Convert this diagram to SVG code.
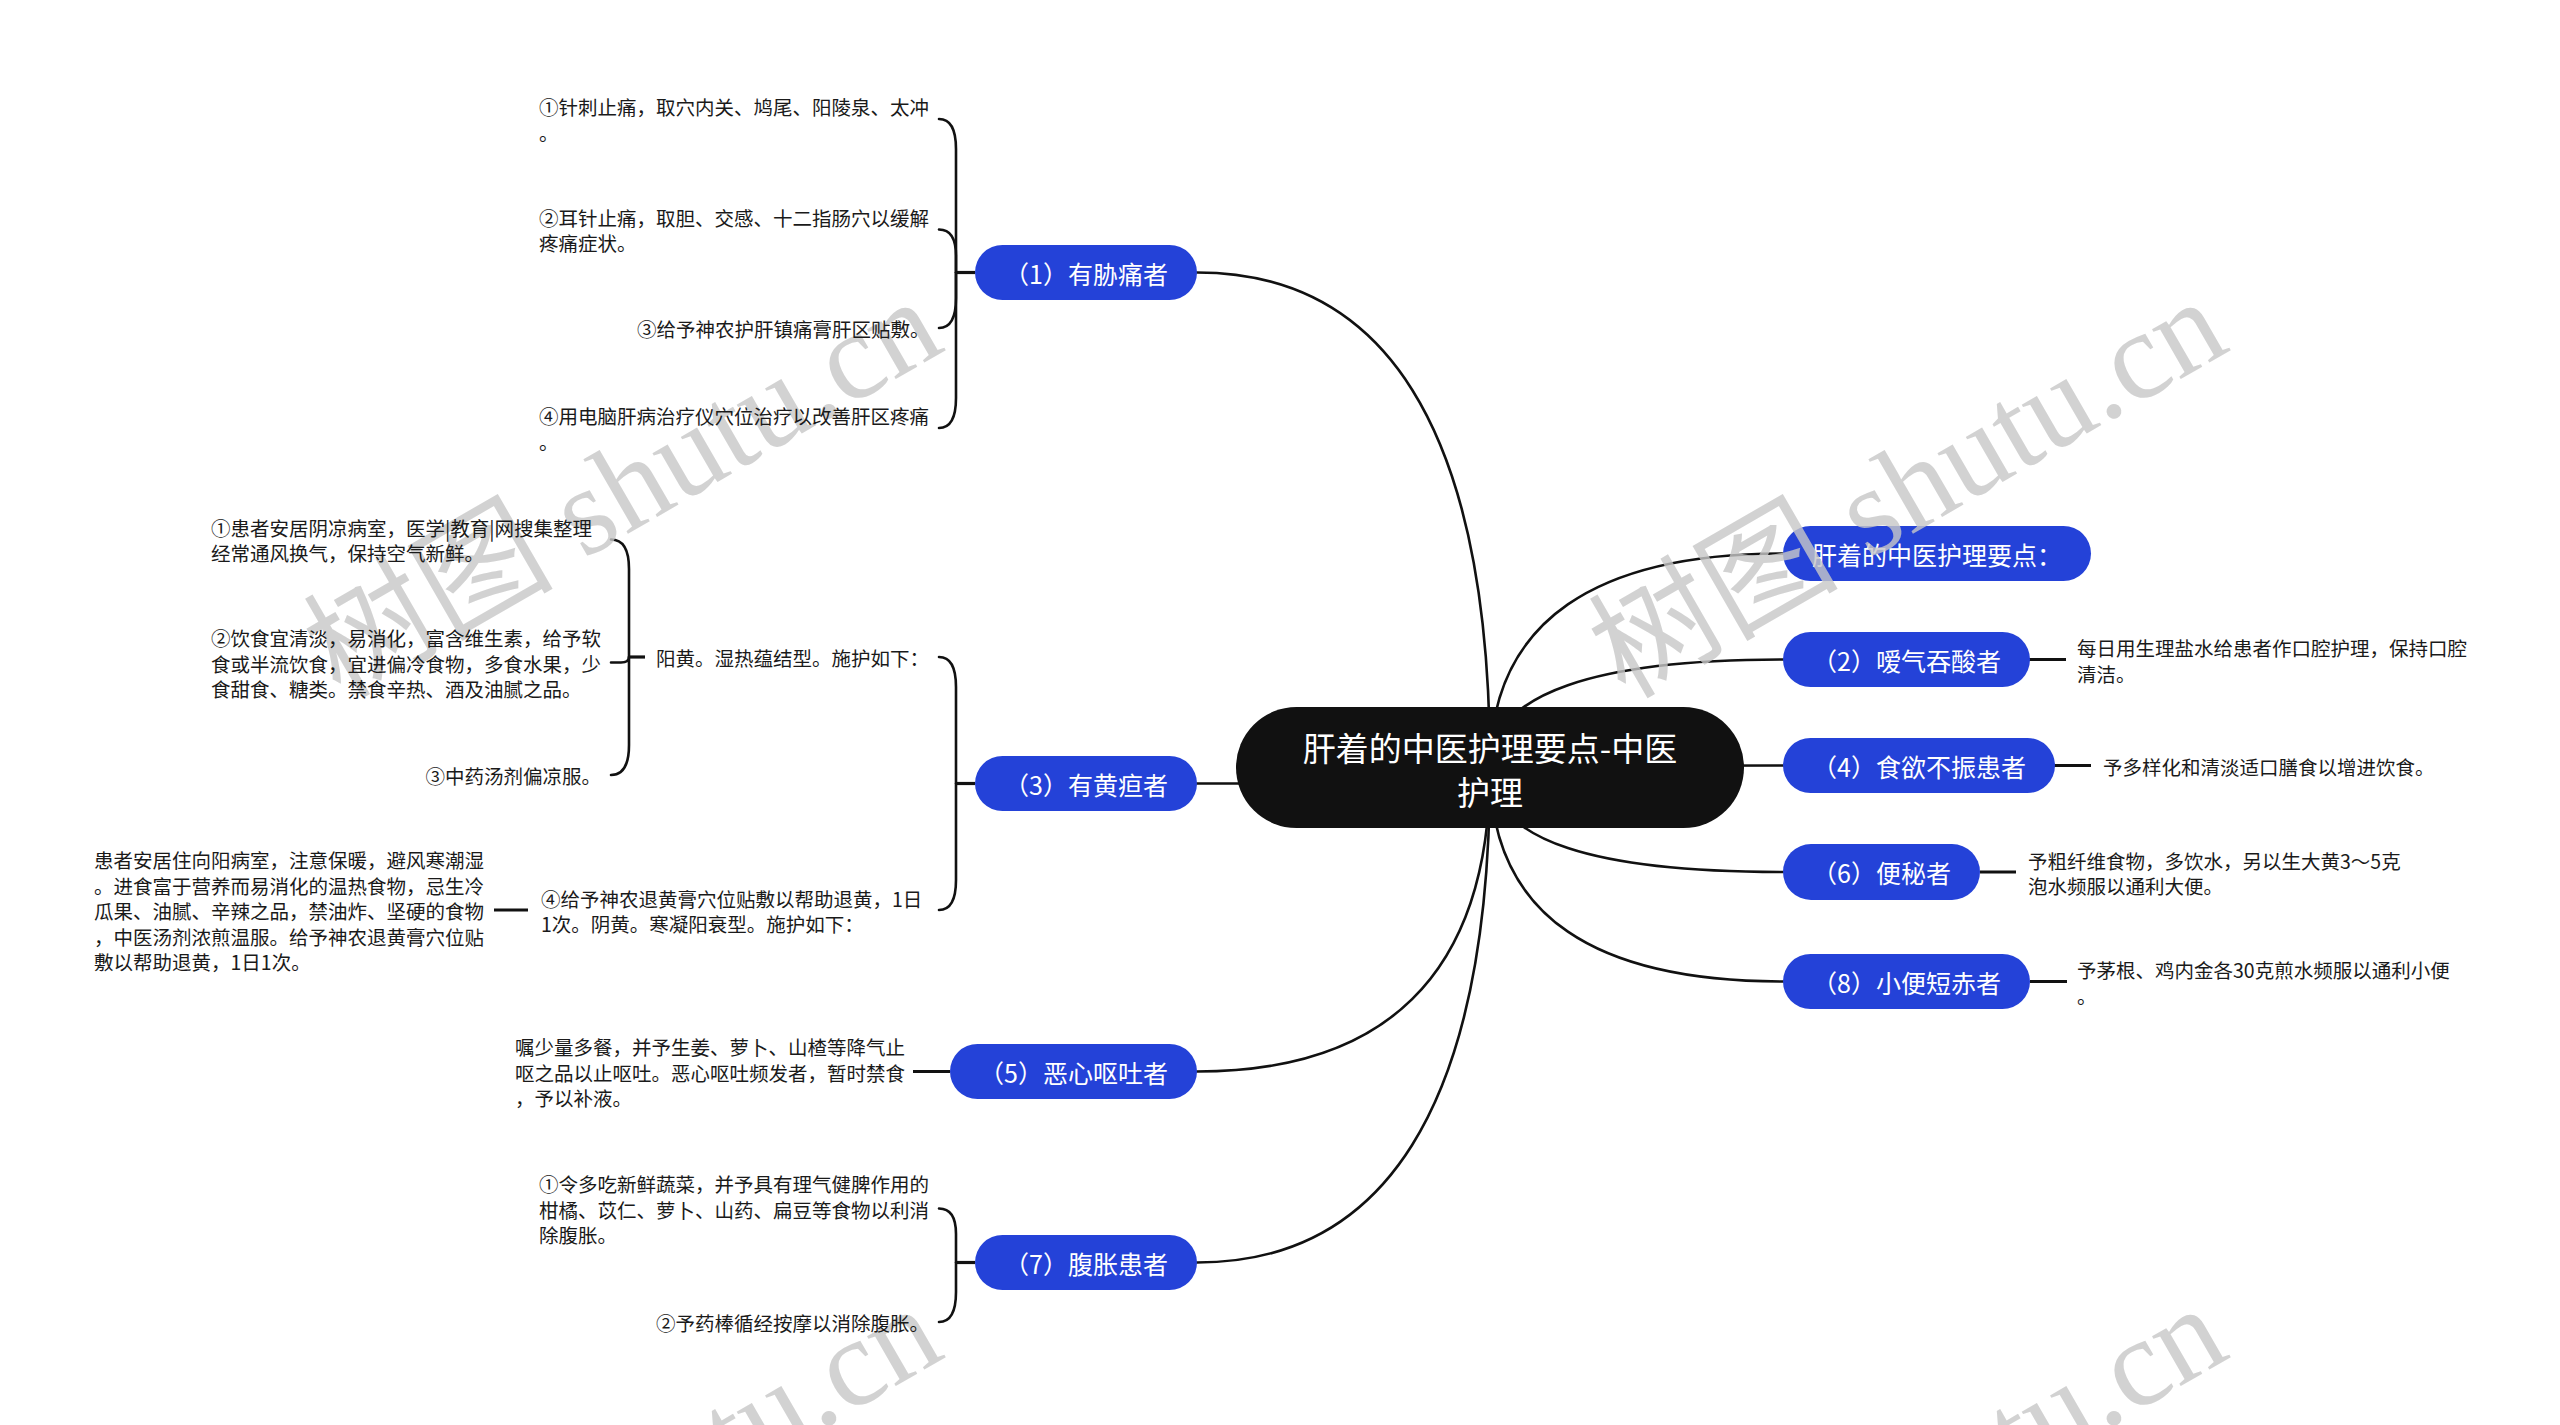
<svg xmlns="http://www.w3.org/2000/svg" width="2560" height="1425" viewBox="0 0 2560 1425">
<style>
.bg{fill:#ffffff}
.conn{fill:none;stroke:#111111;stroke-width:2.6;stroke-linecap:round}
.stub{fill:none;stroke:#111111;stroke-width:3.2}
.blue{fill:#2442D8}
.root{fill:#111111}
text,tspan{font-family:"Noto Sans CJK SC","Noto Sans",sans-serif;dominant-baseline:central}
.nt{font-size:25px;fill:#ffffff;text-anchor:middle}
.rt{font-size:33px;fill:#ffffff;text-anchor:middle}
.lt{font-size:19.5px;fill:#1a1a1a}
.wm{font-family:"Liberation Serif","Noto Sans CJK SC",serif;font-size:125px;fill:#c8c8c8;opacity:0.8;dominant-baseline:alphabetic}
</style>
<rect class="bg" x="0" y="0" width="2560" height="1425"/>

<g id="connectors">
  <path class="conn" d="M1490 767.5 C1490 420 1380 272.5 1197 272.5"/>
  <path class="conn" d="M1490 767.5 C1490 779 1380 783.5 1197 783.5"/>
  <path class="conn" d="M1490 767.5 C1490 980 1380 1071.5 1197 1071.5"/>
  <path class="conn" d="M1490 767.5 C1490 1114 1380 1262.5 1197 1262.5"/>
  <path class="conn" d="M1490 767.5 C1490 618 1600 553.5 1783 553.5"/>
  <path class="conn" d="M1490 767.5 C1490 692 1600 659.5 1783 659.5"/>
  <path class="conn" d="M1490 767.5 C1490 766 1600 765.5 1783 765.5"/>
  <path class="conn" d="M1490 767.5 C1490 843 1600 872 1783 872"/>
  <path class="conn" d="M1490 767.5 C1490 920 1600 981.5 1783 981.5"/>
  <path class="stub" d="M975 272.5 H956"/>
  <path class="conn" d="M939 119 C950 119 956 128 956 149 L956 272.5"/>
  <path class="conn" d="M939 229.5 C950 229.5 956 238 956 256 L956 272.5"/>
  <path class="conn" d="M939 328 C950 328 956 319 956 298 L956 272.5"/>
  <path class="conn" d="M939 428 C950 428 956 419 956 398 L956 272.5"/>
  <path class="stub" d="M975 783.5 H956"/>
  <path class="conn" d="M939 657 C950 657 956 666 956 687 L956 783.5"/>
  <path class="conn" d="M939 910 C950 910 956 901 956 880 L956 783.5"/>
  <path class="stub" d="M645 657 H629"/>
  <path class="conn" d="M611 539.5 C622 539.5 629 548 629 569 L629 657"/>
  <path class="conn" d="M611 662.5 L621 662.5 Q629 662.5 629 657"/>
  <path class="conn" d="M611 775 C622 775 629 766 629 745 L629 657"/>
  <path class="stub" d="M528 910 H494"/>
  <path class="stub" d="M950 1071.5 H913"/>
  <path class="stub" d="M975 1262.5 H956"/>
  <path class="conn" d="M939 1208.5 C950 1208.5 956 1216 956 1234 L956 1262.5"/>
  <path class="conn" d="M939 1322 C950 1322 956 1313 956 1292 L956 1262.5"/>
  <path class="stub" d="M2029 659.5 H2066"/>
  <path class="stub" d="M2054 765.5 H2091"/>
  <path class="stub" d="M1980 872 H2016"/>
  <path class="stub" d="M2030 981.5 H2067"/>
</g>

<g id="root">
  <rect class="root" x="1236" y="707" width="508" height="121" rx="60.5"/>
  <text class="rt" x="1490" y="747">肝着的中医护理要点-中医</text>
  <text class="rt" x="1490" y="791">护理</text>
</g>

<g id="node-1">
  <rect class="blue" x="975" y="245" width="222" height="55" rx="27.5"/>
  <text class="nt" x="1086" y="272.5">（1）有胁痛者</text>
</g>
<g id="node-3">
  <rect class="blue" x="975" y="756" width="222" height="55" rx="27.5"/>
  <text class="nt" x="1086" y="783.5">（3）有黄疸者</text>
</g>
<g id="node-5">
  <rect class="blue" x="950" y="1044" width="247" height="55" rx="27.5"/>
  <text class="nt" x="1073.5" y="1071.5">（5）恶心呕吐者</text>
</g>
<g id="node-7">
  <rect class="blue" x="975" y="1235" width="222" height="55" rx="27.5"/>
  <text class="nt" x="1086" y="1262.5">（7）腹胀患者</text>
</g>
<g id="node-a">
  <rect class="blue" x="1783" y="526" width="308" height="55" rx="27.5"/>
  <text class="nt" x="1937" y="553.5">肝着的中医护理要点：</text>
</g>
<g id="node-2">
  <rect class="blue" x="1783" y="632" width="247" height="55" rx="27.5"/>
  <text class="nt" x="1906.5" y="659.5">（2）嗳气吞酸者</text>
</g>
<g id="node-4">
  <rect class="blue" x="1783" y="738" width="272" height="55" rx="27.5"/>
  <text class="nt" x="1919" y="765.5">（4）食欲不振患者</text>
</g>
<g id="node-6">
  <rect class="blue" x="1783" y="844" width="197" height="56" rx="28"/>
  <text class="nt" x="1881.5" y="872">（6）便秘者</text>
</g>
<g id="node-8">
  <rect class="blue" x="1783" y="954" width="247" height="55" rx="27.5"/>
  <text class="nt" x="1906.5" y="981.5">（8）小便短赤者</text>
</g>

<g id="watermarks">
  <text class="wm" transform="translate(340 700) rotate(-30)">树图 shutu.cn</text>
  <text class="wm" transform="translate(1625 700) rotate(-30)">树图 shutu.cn</text>
  <text class="wm" transform="translate(340 1707) rotate(-30)">树图 shutu.cn</text>
  <text class="wm" transform="translate(1625 1707) rotate(-30)">树图 shutu.cn</text>
</g>

<g id="leaf-1a"><text class="lt"><tspan x="539" y="106">①针刺止痛，取穴内关、鸠尾、阳陵泉、太冲</tspan><tspan x="539" y="132">。</tspan></text></g>
<g id="leaf-1b"><text class="lt"><tspan x="539" y="217">②耳针止痛，取胆、交感、十二指肠穴以缓解</tspan><tspan x="539" y="242">疼痛症状。</tspan></text></g>
<g id="leaf-1c"><text class="lt" x="637" y="328">③给予神农护肝镇痛膏肝区贴敷。</text></g>
<g id="leaf-1d"><text class="lt"><tspan x="539" y="415">④用电脑肝病治疗仪穴位治疗以改善肝区疼痛</tspan><tspan x="539" y="441">。</tspan></text></g>

<g id="leaf-3a"><text class="lt" x="656" y="657">阳黄。湿热蕴结型。施护如下：</text></g>
<g id="leaf-3a1"><text class="lt"><tspan x="211" y="527">①患者安居阴凉病室，医学|教育|网搜集整理</tspan><tspan x="211" y="552">经常通风换气，保持空气新鲜。</tspan></text></g>
<g id="leaf-3a2"><text class="lt"><tspan x="211" y="637">②饮食宜清淡，易消化，富含维生素，给予软</tspan><tspan x="211" y="662.5">食或半流饮食，宜进偏冷食物，多食水果，少</tspan><tspan x="211" y="688">食甜食、糖类。禁食辛热、酒及油腻之品。</tspan></text></g>
<g id="leaf-3a3"><text class="lt" x="425.5" y="775">③中药汤剂偏凉服。</text></g>
<g id="leaf-3b"><text class="lt"><tspan x="541" y="898">④给予神农退黄膏穴位贴敷以帮助退黄，1日</tspan><tspan x="541" y="923">1次。阴黄。寒凝阳衰型。施护如下：</tspan></text></g>
<g id="leaf-3b1"><text class="lt"><tspan x="94" y="859">患者安居住向阳病室，注意保暖，避风寒潮湿</tspan><tspan x="94" y="884.5">。进食富于营养而易消化的温热食物，忌生冷</tspan><tspan x="94" y="910">瓜果、油腻、辛辣之品，禁油炸、坚硬的食物</tspan><tspan x="94" y="935.5">，中医汤剂浓煎温服。给予神农退黄膏穴位贴</tspan><tspan x="94" y="961">敷以帮助退黄，1日1次。</tspan></text></g>

<g id="leaf-5"><text class="lt"><tspan x="515" y="1046">嘱少量多餐，并予生姜、萝卜、山楂等降气止</tspan><tspan x="515" y="1071.5">呕之品以止呕吐。恶心呕吐频发者，暂时禁食</tspan><tspan x="515" y="1097">，予以补液。</tspan></text></g>
<g id="leaf-7a"><text class="lt"><tspan x="539" y="1183">①令多吃新鲜蔬菜，并予具有理气健脾作用的</tspan><tspan x="539" y="1208.5">柑橘、苡仁、萝卜、山药、扁豆等食物以利消</tspan><tspan x="539" y="1234">除腹胀。</tspan></text></g>
<g id="leaf-7b"><text class="lt" x="656" y="1322">②予药棒循经按摩以消除腹胀。</text></g>

<g id="leaf-2"><text class="lt"><tspan x="2077" y="647">每日用生理盐水给患者作口腔护理，保持口腔</tspan><tspan x="2077" y="672.5">清洁。</tspan></text></g>
<g id="leaf-4"><text class="lt" x="2103" y="766">予多样化和清淡适口膳食以增进饮食。</text></g>
<g id="leaf-6"><text class="lt"><tspan x="2028" y="859.5">予粗纤维食物，多饮水，另以生大黄3～5克</tspan><tspan x="2028" y="885">泡水频服以通利大便。</tspan></text></g>
<g id="leaf-8"><text class="lt"><tspan x="2077" y="969">予茅根、鸡内金各30克煎水频服以通利小便</tspan><tspan x="2077" y="994.5">。</tspan></text></g>
</svg>
